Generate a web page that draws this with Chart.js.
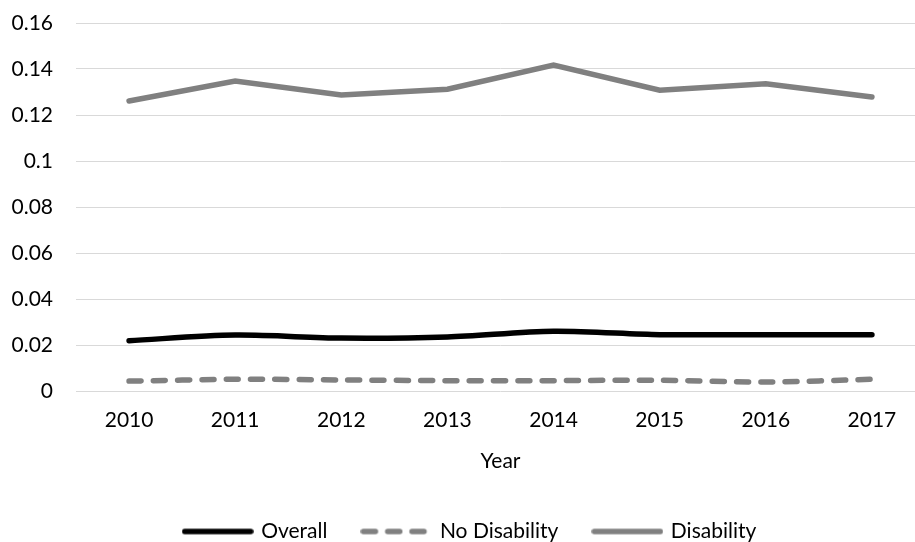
<!DOCTYPE html>
<html>
<head>
<meta charset="utf-8">
<script src="https://cdn.jsdelivr.net/npm/chart.js@4.4.1/dist/chart.umd.min.js"></script>
<style>
  html, body { margin: 0; padding: 0; background: #fff; overflow: hidden; }
  #wrap { position: relative; width: 942px; height: 552px; }
</style>
</head>
<body>
<div id="wrap"><canvas id="chart"></canvas></div>
<script>
// data
const years = ['2010', '2011', '2012', '2013', '2014', '2015', '2016', '2017'];
const overall = [0.0219, 0.0243, 0.0230, 0.0235, 0.0260, 0.0245, 0.0245, 0.0245];
const noDisability = [0.0043, 0.0051, 0.0048, 0.0045, 0.0045, 0.0047, 0.0039, 0.0051];
const disability = [0.1261, 0.1348, 0.1287, 0.1312, 0.1417, 0.1308, 0.1336, 0.1278];
const yTickLabels = ['0', '0.02', '0.04', '0.06', '0.08', '0.1', '0.12', '0.14', '0.16'];

const font = { family: 'Lato', size: 21 };
const txt = '#000000';
const lw = 5.5;
const dash = [12, 12.3];

// small line samples used as legend symbols (chart.js drops the dash on point styles)
function legendSample(color, dashed) {
  const c = document.createElement('canvas');
  c.width = 72; c.height = 10;
  const g = c.getContext('2d');
  g.strokeStyle = color;
  g.lineWidth = lw;
  g.lineCap = 'round';
  if (dashed) g.setLineDash(dash);
  g.beginPath();
  g.moveTo(3, 5);
  g.lineTo(69, 5);
  g.stroke();
  return c;
}

// legend sits a bit right of the plot-area centre in the original
const shiftLegend = {
  id: 'shiftLegend',
  afterLayout(chart) {
    chart.legend.left += 8;
    chart.legend.right += 8;
  }
};

new Chart(document.getElementById('chart'), {
  type: 'line',
  data: {
    labels: years,
    datasets: [
      { label: 'Overall', data: overall, borderColor: '#000000', borderWidth: lw,
        borderCapStyle: 'round', tension: 0.3, pointRadius: 0,
        pointStyle: legendSample('#000000', false) },
      { label: 'No Disability', data: noDisability, borderColor: '#808080', borderWidth: lw,
        borderCapStyle: 'round', borderDash: dash, tension: 0.3, pointRadius: 0,
        pointStyle: legendSample('#808080', true) },
      { label: 'Disability', data: disability, borderColor: '#808080', borderWidth: lw,
        borderCapStyle: 'round', tension: 0, pointRadius: 0,
        pointStyle: legendSample('#808080', false) }
    ]
  },
  options: {
    responsive: true,
    maintainAspectRatio: false,
    animation: false,
    layout: { padding: { left: 0, right: 17, top: 23, bottom: 0 } },
    plugins: {
      tooltip: { enabled: false },
      legend: {
        position: 'bottom',
        labels: {
          usePointStyle: true, pointStyleWidth: 66,
          padding: 36, color: txt, font: font
        }
      }
    },
    scales: {
      x: {
        offset: true,
        grid: { display: false, drawTicks: false },
        border: { display: false },
        ticks: { color: txt, font: font, padding: 17, maxRotation: 0 },
        title: { display: true, text: 'Year', color: txt, font: font, padding: { top: 0, bottom: 11 } },
        afterFit: (s) => { s.height = 94; }
      },
      y: {
        min: 0, max: 0.16,
        grid: { color: '#d9d9d9', lineWidth: 1, drawTicks: false },
        border: { display: false },
        ticks: {
          stepSize: 0.02, color: txt, font: font, padding: 23,
          callback: (v, i) => yTickLabels[i]
        },
        afterFit: (s) => { s.width = 76; s.paddingTop = 0; s.paddingBottom = 0; }
      }
    }
  },
  plugins: [shiftLegend]
});
</script>
</body>
</html>
